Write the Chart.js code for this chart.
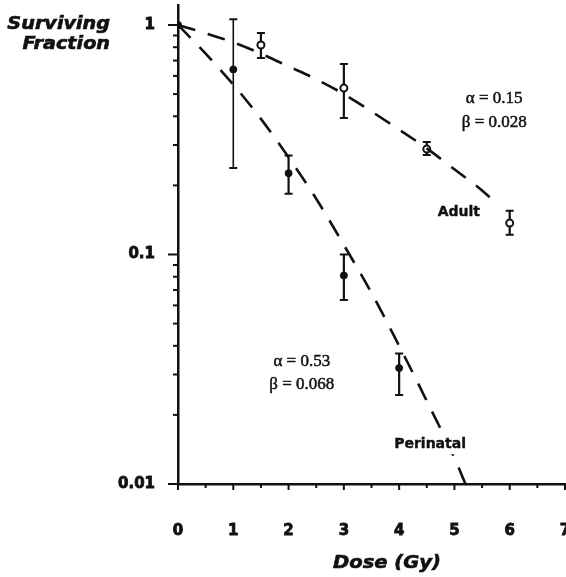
<!DOCTYPE html>
<html>
<head>
<meta charset="utf-8">
<script src="https://cdn.jsdelivr.net/npm/chart.js@4.4.1/dist/chart.umd.min.js"></script>
<style>
  html, body { margin: 0; padding: 0; background: #fff; }
  canvas { display: block; }
</style>
</head>
<body>
<canvas id="survivalChart" width="566" height="577"></canvas>
<script>
// Perinatal group (filled markers)
const perinatalDose = [0, 1, 2, 3, 4];
const perinatalFrac = [1, 0.64, 0.226, 0.081, 0.032];
const perinatalHigh = [null, 1.06, 0.27, 0.10, 0.037];
const perinatalLow  = [null, 0.238, 0.184, 0.0633, 0.0244];

// Adult group (open markers)
const adultDose = [1.5, 3, 4.5, 6];
const adultFrac = [0.818, 0.531, 0.288, 0.137];
const adultHigh = [0.923, 0.676, 0.309, 0.155];
const adultLow  = [0.718, 0.393, 0.271, 0.122];

// fitted linear-quadratic curves (dashed)
const perinatalFitDose = [0, 0.5, 1, 1.5, 2, 2.5, 3, 3.5, 4, 4.5, 5, 5.2];
const perinatalFitFrac = [1, 0.75, 0.55, 0.39, 0.265, 0.175, 0.11, 0.068, 0.04, 0.023, 0.013, 0.01];
const adultFitDose = [0, 0.5, 1, 1.5, 2, 2.5, 3, 3.5, 4, 4.5, 5, 5.5, 5.7];
const adultFitFrac = [1, 0.92, 0.84, 0.75, 0.66, 0.58, 0.50, 0.42, 0.35, 0.29, 0.235, 0.19, 0.172];

// axis ticks
const yMajorTicks = [0.01, 0.1, 1];
const yMajorLabels = ['0.01', '0.1', '1'];
const xTickLabels = ['0', '1', '2', '3', '4', '5', '6', '7'];

const INK = '#111';
const SANS = "'DejaVu Sans', sans-serif";

// minor log ticks 2..9 inside each decade
const yAllTicks = [];
[0.01, 0.1].forEach(dec => {
  for (let k = 1; k <= 9; k++) yAllTicks.push(parseFloat((k * dec).toPrecision(3)));
});
yAllTicks.push(1);

function isMajorY(v) {
  return yMajorTicks.findIndex(m => Math.abs(m - v) < 1e-9);
}

function points(xs, ys) {
  return xs.map((x, i) => ({ x, y: ys[i] }));
}

function stretchedText(ctx, text, x, y, sx, align) {
  ctx.save();
  ctx.translate(x, y);
  ctx.scale(sx, 1);
  ctx.textAlign = align;
  ctx.fillText(text, 0, 0);
  ctx.strokeText(text, 0, 0);
  ctx.restore();
}

// vertical error bars with caps
const errorBars = {
  id: 'errorBars',
  beforeDatasetsDraw(chart) {
    const { ctx, scales: { x, y } } = chart;
    ctx.save();
    ctx.strokeStyle = INK;
    const draw = (xs, hi, lo, width) => {
      xs.forEach((d, i) => {
        if (hi[i] == null) return;
        const px = x.getPixelForValue(d);
        const top = y.getPixelForValue(hi[i]);
        const bot = y.getPixelForValue(lo[i]);
        ctx.lineWidth = width(i);
        ctx.beginPath();
        ctx.moveTo(px, top); ctx.lineTo(px, bot);
        ctx.stroke();
        ctx.lineWidth = 2;
        ctx.beginPath();
        ctx.moveTo(px - 4, top); ctx.lineTo(px + 4, top);
        ctx.moveTo(px - 4, bot); ctx.lineTo(px + 4, bot);
        ctx.stroke();
      });
    };
    draw(perinatalDose, perinatalHigh, perinatalLow, i => (i === 1 ? 1.6 : 2.2));
    draw(adultDose, adultHigh, adultLow, () => 2.2);
    ctx.restore();
  }
};

// tick marks: long for decades and whole doses, short otherwise
const tickMarks = {
  id: 'tickMarks',
  afterDraw(chart) {
    const { ctx, scales: { x, y } } = chart;
    ctx.save();
    ctx.strokeStyle = INK;
    ctx.lineWidth = 2;
    x.ticks.forEach(t => {
      const px = x.getPixelForValue(t.value);
      const len = Number.isInteger(t.value) ? 6 : 4;
      ctx.beginPath();
      ctx.moveTo(px, x.top); ctx.lineTo(px, x.top + len);
      ctx.stroke();
    });
    y.ticks.forEach(t => {
      const py = y.getPixelForValue(t.value);
      const len = isMajorY(t.value) >= 0 ? 10 : 5;
      ctx.beginPath();
      ctx.moveTo(y.right, py); ctx.lineTo(y.right - len, py);
      ctx.stroke();
    });
    ctx.restore();
  }
};

// curve labels, fit parameters and axis titles
const annotations = {
  id: 'annotations',
  afterDatasetsDraw(chart) {
    const { ctx, scales: { x, y } } = chart;
    ctx.save();
    ctx.fillStyle = INK;
    ctx.strokeStyle = INK;
    ctx.textBaseline = 'middle';

    ctx.font = 'bold 14px ' + SANS;
    ctx.lineWidth = 0.4;
    const px = x.getPixelForValue(4.56), py = y.getPixelForValue(0.0149);
    const w = ctx.measureText('Perinatal').width;
    ctx.fillStyle = '#fff';
    ctx.fillRect(px - w / 2 - 3, py - 10, w + 6, 20);
    ctx.fillStyle = INK;
    ctx.textAlign = 'center';
    ctx.fillText('Perinatal', px, py);
    ctx.strokeText('Perinatal', px, py);
    ctx.fillText('Adult', x.getPixelForValue(5.08), y.getPixelForValue(0.153));
    ctx.strokeText('Adult', x.getPixelForValue(5.08), y.getPixelForValue(0.153));

    ctx.font = "17px 'Liberation Serif', serif";
    ctx.lineWidth = 0.5;
    const greek = [
      ['α = 0.53', 2.24, 0.034], ['β = 0.068', 2.24, 0.027],
      ['α = 0.15', 5.72, 0.476], ['β = 0.028', 5.72, 0.374]
    ];
    greek.forEach(([t, gx, gy]) => {
      ctx.fillText(t, x.getPixelForValue(gx), y.getPixelForValue(gy));
      ctx.strokeText(t, x.getPixelForValue(gx), y.getPixelForValue(gy));
    });

    ctx.font = 'italic bold 17px ' + SANS;
    ctx.lineWidth = 0.6;
    stretchedText(ctx, 'Surviving', 110, 25, 1.13, 'right');
    stretchedText(ctx, 'Fraction', 110, 45, 1.13, 'right');
    stretchedText(ctx, 'Dose (Gy)', 387, 564, 1.15, 'center');
    ctx.restore();
  }
};

new Chart(document.getElementById('survivalChart'), {
  type: 'line',
  data: {
    datasets: [
      {
        label: 'Perinatal fit',
        data: points(perinatalFitDose, perinatalFitFrac),
        borderColor: INK,
        borderWidth: 2.6,
        borderDash: [18, 13],
        pointRadius: 0,
        cubicInterpolationMode: 'monotone',
        fill: false
      },
      {
        label: 'Adult fit',
        data: points(adultFitDose, adultFitFrac),
        borderColor: INK,
        borderWidth: 2.6,
        borderDash: [18, 13],
        pointRadius: 0,
        cubicInterpolationMode: 'monotone',
        fill: false
      },
      {
        label: 'Perinatal',
        data: points(perinatalDose, perinatalFrac),
        showLine: false,
        pointRadius: 3.5,
        pointBackgroundColor: INK,
        pointBorderColor: INK,
        pointBorderWidth: 1
      },
      {
        label: 'Adult',
        data: points(adultDose, adultFrac),
        showLine: false,
        pointRadius: 3.5,
        pointBackgroundColor: '#fff',
        pointBorderColor: INK,
        pointBorderWidth: 2
      }
    ]
  },
  options: {
    responsive: false,
    animation: false,
    layout: { autoPadding: false, padding: { top: 5, right: 1, left: 0, bottom: 0 } },
    plugins: {
      legend: { display: false },
      tooltip: { enabled: false }
    },
    scales: {
      x: {
        type: 'linear',
        min: 0,
        max: 7,
        grid: { drawOnChartArea: false, drawTicks: false },
        border: { color: INK, width: 2.5 },
        ticks: {
          stepSize: 0.5,
          autoSkip: false,
          maxRotation: 0,
          padding: 38,
          color: INK,
          textStrokeColor: INK,
          textStrokeWidth: 0.8,
          font: { family: SANS, weight: 'bold', size: 15 },
          callback: v => (Number.isInteger(v) ? xTickLabels[v] : '')
        },
        afterFit: s => {
          s.height = 93;
          s.paddingLeft = 0;
          s.paddingRight = 0;
        }
      },
      y: {
        type: 'logarithmic',
        min: 0.01,
        max: 1.222,
        grid: { drawOnChartArea: false, drawTicks: false },
        border: { color: INK, width: 2.5 },
        ticks: {
          autoSkip: false,
          padding: 23,
          color: INK,
          textStrokeColor: INK,
          textStrokeWidth: 0.8,
          font: { family: SANS, weight: 'bold', size: 15 },
          callback: v => {
            const i = isMajorY(v);
            return i >= 0 ? yMajorLabels[i] : '';
          }
        },
        afterBuildTicks: s => {
          s.ticks = yAllTicks.map(v => ({ value: v }));
        },
        afterFit: s => {
          s.width = 178;
          s.paddingTop = 0;
          s.paddingBottom = 0;
        }
      }
    }
  },
  plugins: [errorBars, tickMarks, annotations]
});
</script>
</body>
</html>
